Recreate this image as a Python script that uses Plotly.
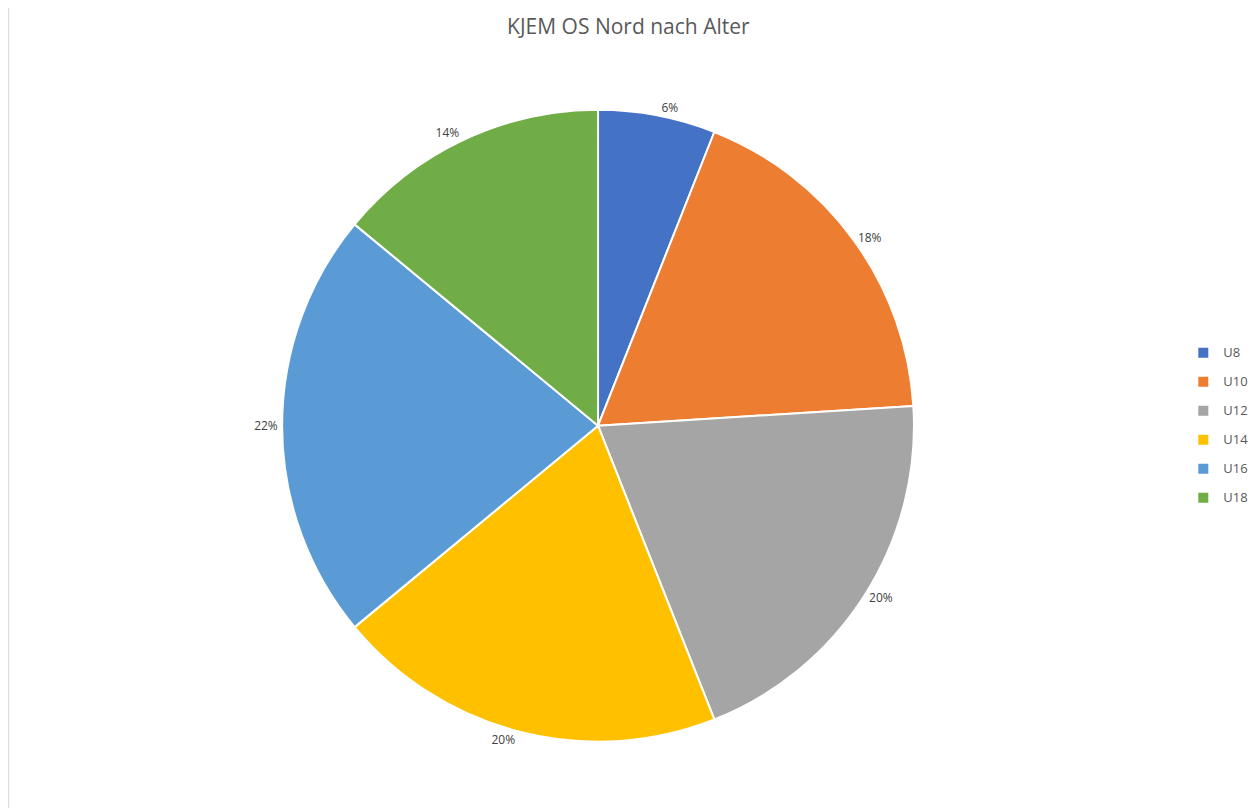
import plotly.graph_objects as go

# age groups and their share (%)
age_groups = ["U8", "U10", "U12", "U14", "U16", "U18"]
shares = [6, 18, 20, 20, 22, 14]
slice_colors = ["#4472C4", "#ED7D31", "#A5A5A5", "#FFC000", "#5B9BD5", "#70AD47"]

# small label text inside a taller legend row to get Excel-like spacing
legend_labels = ['<span style="font-size:13px;baseline-shift:4px">%s</span>' % g for g in age_groups]

fig = go.Figure(go.Pie(
    labels=legend_labels,
    values=shares,
    customdata=age_groups,
    sort=False,
    direction="clockwise",
    rotation=0,
    marker=dict(colors=slice_colors, line=dict(color="white", width=2)),
    textinfo="percent",
    texttemplate="%{percent:.0%}",
    textposition="outside",
    textfont=dict(family="Open Sans", size=12, color="#404040"),
    domain=dict(x=[0.2179, 0.7209], y=[0.092, 0.874]),
    hovertemplate="%{customdata}: %{percent:.0%}<extra></extra>",
))

fig.update_layout(
    width=1257,
    height=808,
    margin=dict(l=0, r=0, t=0, b=0),
    paper_bgcolor="white",
    title=dict(
        text="KJEM OS Nord nach Alter",
        x=0.4935, xanchor="center",
        y=0.9765, yanchor="middle",
        font=dict(family="Open Sans", size=21, color="#595959"),
    ),
    legend=dict(
        x=0.935, xanchor="left",
        y=0.4835, yanchor="middle",
        font=dict(family="Open Sans", size=20, color="#595959"),
        itemsizing="constant",
    ),
    shapes=[dict(type="line", xref="paper", yref="paper", x0=0.0005, x1=0.0005, y0=0, y1=1,
                 line=dict(color="#D9D9D9", width=1))],
)

fig.write_html("out.html")
